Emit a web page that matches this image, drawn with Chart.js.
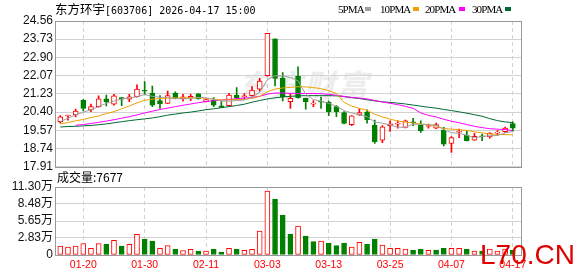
<!DOCTYPE html>
<html>
<head>
<meta charset="utf-8">
<script src="https://cdn.jsdelivr.net/npm/chart.js@4"></script>
<style>
  html, body { margin: 0; padding: 0; background: #fff; }
  #wrap { position: relative; width: 578px; height: 276px; overflow: hidden; }
  #wrap canvas { position: absolute; left: 0; top: 0; }
  .txt { position: absolute; white-space: nowrap; color: #000; }
  #title { left: 55px; top: 2px; font-size: 12.5px; line-height: 14px; font-family: "Noto Sans CJK SC", sans-serif; }
  #title .mono { font-family: "DejaVu Sans Mono", monospace; font-size: 10px; }
  .lg { top: 3px; font-family: "Liberation Serif", serif; font-size: 11px; line-height: 12px; letter-spacing: -0.9px; }
  .sq { position: absolute; top: 7px; width: 6px; height: 4px; }
  #volTitle { left: 57px; top: 170px; font-size: 12px; line-height: 14px; font-family: "Noto Sans CJK SC", sans-serif; }
  #mark { left: 238px; top: 68px; font-size: 31px; line-height: 32px; font-weight: bold; font-style: italic; color: #ededed; font-family: "Noto Sans CJK SC", sans-serif; letter-spacing: 2px; }
  #site { left: 480px; top: 241px; font-size: 28px; line-height: 28px; color: #e00000; font-family: "Liberation Sans", sans-serif; }
</style>
</head>
<body>
<div id="wrap">
  <div class="txt" id="mark">东方财富</div>
  <canvas id="priceChart" width="578" height="276" style="width:578px;height:276px"></canvas>
  <canvas id="volChart" width="578" height="276" style="width:578px;height:276px"></canvas>
  <div class="txt" id="title">东方环宇<span class="mono">[603706] 2026-04-17 15:00</span></div>
  <div class="txt lg" style="left:338px">5PMA</div><div class="sq" style="left:365px;background:#a0a0a0"></div>
  <div class="txt lg" style="left:380px">10PMA</div><div class="sq" style="left:413px;background:#f0a000"></div>
  <div class="txt lg" style="left:425px">20PMA</div><div class="sq" style="left:459px;background:#ff00ff"></div>
  <div class="txt lg" style="left:472px">30PMA</div><div class="sq" style="left:505px;background:#006a32"></div>
  <div class="txt" id="volTitle">成交量:7677</div>
  <div class="txt" id="site">L70.CN</div>
</div>
<script>
// trading days
const dates = [
  "01-15", "01-16", "01-19", "01-20", "01-21", "01-22", "01-23", "01-26", "01-27", "01-28",
  "01-29", "01-30", "02-02", "02-03", "02-04", "02-05", "02-06", "02-09", "02-10", "02-11",
  "02-12", "02-13", "02-24", "02-25", "02-26", "02-27", "03-02", "03-03", "03-04", "03-05",
  "03-06", "03-09", "03-10", "03-11", "03-12", "03-13", "03-16", "03-17", "03-18", "03-19",
  "03-20", "03-23", "03-24", "03-25", "03-26", "03-27", "03-30", "03-31", "04-01", "04-02",
  "04-03", "04-07", "04-08", "04-09", "04-10", "04-13", "04-14", "04-15", "04-16", "04-17",
];
const labelIdx = [3, 11, 19, 27, 35, 43, 51, 59];

// candles
const open = [
  19.96, 20.22, 20.27, 20.95, 20.50, 20.65, 21.00, 20.76, 21.06, 20.99,
  21.10, 21.38, 21.26, 20.92, 20.80, 21.27, 21.00, 21.03, 21.23, 20.87,
  20.95, 20.69, 20.69, 21.18, 21.10, 21.15, 21.45, 22.06, 23.74, 21.94,
  20.88, 22.05, 21.03, 20.76, 20.88, 20.86, 20.65, 20.38, 19.82, 20.27,
  20.40, 19.81, 19.12, 19.78, 19.85, 19.70, 19.94, 19.81, 19.74, 19.66,
  19.58, 18.97, 19.48, 19.35, 19.12, 19.30, 19.27, 19.44, 19.50, 19.88,
];
const high = [
  20.24, 20.26, 20.54, 20.97, 20.76, 21.14, 21.18, 21.21, 21.07, 21.21,
  21.64, 21.79, 21.59, 21.15, 21.36, 21.32, 21.21, 21.21, 21.24, 20.98,
  21.06, 20.88, 21.26, 21.52, 21.24, 21.56, 21.94, 24.00, 23.75, 22.20,
  21.26, 22.47, 21.04, 20.92, 21.08, 20.90, 20.70, 20.42, 20.24, 20.55,
  20.50, 20.04, 19.78, 20.00, 20.00, 20.04, 20.12, 20.00, 19.85, 19.90,
  19.70, 19.28, 19.62, 19.54, 19.43, 19.39, 19.46, 19.55, 19.72, 19.96,
];
const low = [
  19.89, 20.03, 20.18, 20.45, 20.42, 20.63, 20.68, 20.72, 20.69, 20.88,
  21.08, 21.18, 20.65, 20.57, 20.78, 21.00, 20.90, 20.92, 20.99, 20.86,
  20.65, 20.60, 20.67, 21.00, 21.00, 21.13, 21.36, 22.04, 21.60, 20.91,
  20.57, 21.04, 20.53, 20.65, 20.57, 20.24, 20.19, 19.86, 19.78, 20.25,
  19.89, 18.97, 19.00, 19.52, 19.66, 19.68, 19.78, 19.47, 19.66, 19.64,
  18.86, 18.56, 19.23, 19.08, 19.11, 19.09, 19.21, 19.33, 19.46, 19.52,
];
const close = [
  20.18, 20.25, 20.45, 20.57, 20.65, 21.00, 20.86, 21.14, 20.99, 21.10,
  21.45, 21.35, 20.72, 20.77, 21.15, 21.02, 21.10, 21.12, 21.00, 20.97,
  20.72, 20.61, 21.18, 21.03, 21.14, 21.41, 21.82, 24.00, 21.94, 21.10,
  21.03, 21.06, 20.88, 20.78, 20.85, 20.42, 20.42, 19.88, 20.23, 20.38,
  20.05, 19.05, 19.73, 19.86, 19.87, 20.00, 19.91, 19.55, 19.78, 19.83,
  18.93, 19.23, 19.50, 19.09, 19.29, 19.27, 19.44, 19.47, 19.67, 19.66,
];

// moving averages as drawn
const ma5 = [
  19.96, 20.12, 20.27, 20.40, 20.50, 20.65, 20.80, 20.90, 21.00, 21.05,
  21.10, 21.20, 21.12, 21.08, 21.06, 21.02, 21.00, 21.03, 21.07, 21.05,
  20.98, 20.90, 20.90, 20.93, 20.95, 21.08, 21.30, 21.88, 22.06, 22.05,
  21.98, 21.83, 21.22, 20.97, 20.90, 20.80, 20.67, 20.47, 20.36, 20.27,
  20.19, 19.95, 19.89, 19.81, 19.71, 19.70, 19.85, 19.84, 19.82, 19.80,
  19.60, 19.46, 19.43, 19.34, 19.23, 19.28, 19.32, 19.33, 19.45, 19.52,
];
const ma10 = [
  19.86, 19.92, 20.00, 20.06, 20.15, 20.22, 20.33, 20.42, 20.55, 20.68,
  20.82, 20.94, 20.99, 21.02, 21.04, 21.05, 21.05, 21.05, 21.05, 21.03,
  20.99, 20.95, 20.96, 20.97, 20.97, 21.03, 21.12, 21.33, 21.45, 21.50,
  21.53, 21.56, 21.55, 21.52, 21.47, 21.38, 21.25, 20.84, 20.67, 20.57,
  20.48, 20.30, 20.18, 20.08, 19.99, 19.94, 19.90, 19.86, 19.82, 19.76,
  19.65, 19.62, 19.60, 19.56, 19.50, 19.45, 19.40, 19.38, 19.37, 19.36,
];
const ma20 = [
  null, null, 19.80, 19.83, 19.88, 19.93, 19.99, 20.05, 20.12, 20.19,
  20.27, 20.36, 20.44, 20.52, 20.58, 20.65, 20.71, 20.77, 20.83, 20.88,
  20.92, 20.95, 20.98, 21.01, 21.04, 21.07, 21.12, 21.22, 21.27, 21.27,
  21.26, 21.25, 21.25, 21.25, 21.24, 21.21, 21.17, 21.11, 21.07, 21.04,
  21.00, 20.93, 20.86, 20.80, 20.74, 20.66, 20.57, 20.36, 20.25, 20.18,
  20.07, 19.98, 19.91, 19.83, 19.75, 19.69, 19.64, 19.62, 19.60, 19.56,
];
const ma30 = [
  19.72, 19.74, 19.75, 19.77, 19.79, 19.82, 19.86, 19.91, 19.96, 20.01,
  20.05, 20.09, 20.13, 20.19, 20.26, 20.31, 20.36, 20.40, 20.45, 20.51,
  20.55, 20.60, 20.65, 20.70, 20.76, 20.85, 20.93, 21.00, 21.05, 21.09,
  21.12, 21.14, 21.15, 21.15, 21.15, 21.15, 21.14, 21.11, 21.06, 21.02,
  20.96, 20.91, 20.87, 20.84, 20.81, 20.77, 20.72, 20.67, 20.62, 20.58,
  20.52, 20.47, 20.41, 20.35, 20.28, 20.21, 20.10, 20.01, 19.95, 19.92,
];

// volume, in 万
const volume = [
  1.50, 1.33, 1.50, 1.88, 1.11, 1.88, 1.77, 2.44, 1.50, 1.77,
  3.44, 2.66, 2.33, 1.11, 1.55, 1.00, 0.72, 0.95, 0.66, 0.66,
  1.00, 0.50, 1.11, 1.00, 0.78, 0.95, 3.99, 10.63, 9.30, 6.64,
  3.49, 4.82, 3.16, 2.21, 2.33, 1.99, 1.55, 1.99, 1.33, 2.11,
  1.83, 2.66, 1.66, 1.11, 1.11, 1.00, 0.78, 1.00, 0.78, 0.83,
  1.11, 1.11, 1.11, 1.00, 0.66, 0.66, 1.00, 0.66, 1.00, 0.77,
];
// 1 = red (up day), 0 = green
const volUp = [
  1, 1, 1, 1, 1, 1, 0, 1, 0, 1,
  1, 0, 0, 1, 1, 0, 1, 1, 0, 1,
  0, 0, 1, 0, 1, 1, 1, 1, 0, 0,
  0, 1, 0, 0, 1, 0, 0, 0, 1, 1,
  0, 0, 1, 1, 1, 1, 0, 0, 1, 0,
  0, 1, 1, 0, 1, 0, 1, 1, 1, 0,
];

// axis ticks
const priceTicks = [17.91, 18.74, 19.57, 20.40, 21.23, 22.07, 22.90, 23.73, 24.56];
const priceTickLabels = ["17.91", "18.74", "19.57", "20.40", "21.23", "22.07", "22.90", "23.73", "24.56"];
const volTicks = [0, 2.83, 5.65, 8.48, 11.30];
const volTickLabels = ["0", "2.83万", "5.65万", "8.48万", "11.30万"];

const RED = "#ff0000";
const GREEN = "#008000";
const GRID = "#d2d2d2";
const X_MIN = -0.69;
const X_MAX = 60.2;

Chart.defaults.font.family = "'Liberation Sans', 'Noto Sans CJK SC', sans-serif";
Chart.defaults.font.size = 12;
Chart.defaults.color = "#111";

// grey box around the plot area
const framePlugin = {
  id: "frame",
  afterDraw(chart) {
    const a = chart.chartArea;
    const ctx = chart.ctx;
    ctx.save();
    ctx.strokeStyle = "#999";
    ctx.lineWidth = 1;
    ctx.strokeRect(Math.round(a.left) + 0.5, Math.round(a.top) + 0.5,
      Math.round(a.right - a.left) - 1, Math.round(a.bottom - a.top));
    ctx.restore();
  },
};

function xScale(showLabels) {
  return {
    type: "linear",
    min: X_MIN,
    max: X_MAX,
    offset: false,
    afterBuildTicks: (s) => { s.ticks = labelIdx.map((v) => ({ value: v })); },
    ticks: {
      display: showLabels,
      autoSkip: false,
      maxRotation: 0,
      padding: 4,
      color: RED,
      font: { size: 10.5 },
      callback: (v) => dates[v],
    },
    grid: { color: GRID, drawTicks: false, offset: false },
    border: { display: false, dash: [4, 3] },
    afterFit: (s) => { s.height = showLabels ? 21 : 0; },
  };
}

function yScale(min, max, ticks, labels) {
  return {
    min: min,
    max: max,
    afterBuildTicks: (s) => { s.ticks = ticks.map((v) => ({ value: v })); },
    ticks: { padding: 2, autoSkip: false, callback: (v, i) => labels[i] },
    grid: { color: GRID, drawTicks: false },
    border: { display: false },
    afterFit: (s) => { s.width = 55; },
  };
}

const isUp = close.map((c, i) => c >= open[i]);

function lineSet(values, color) {
  return {
    type: "line",
    data: values.map((v, i) => ({ x: i, y: v })),
    borderColor: color,
    borderWidth: 1,
    pointRadius: 0,
    tension: 0,
    spanGaps: false,
  };
}

new Chart(document.getElementById("priceChart"), {
  type: "bar",
  data: {
    datasets: [
      lineSet(ma5, "#a0a0a0"),
      lineSet(ma10, "#f0a000"),
      lineSet(ma20, "#ff00ff"),
      lineSet(ma30, "#006a32"),
      {
        // bodies
        data: open.map((o, i) => ({ x: i, y: [o, close[i]] })),
        backgroundColor: isUp.map((u) => (u ? "#ffffff" : GREEN)),
        borderColor: isUp.map((u) => (u ? RED : GREEN)),
        borderWidth: 1,
        borderSkipped: false,
        barThickness: 5,
        minBarLength: 1,
        grouped: false,
      },
      {
        // wicks
        data: low.map((l, i) => ({ x: i, y: [l, high[i]] })),
        backgroundColor: isUp.map((u) => (u ? RED : GREEN)),
        borderWidth: 0,
        barThickness: 1,
        grouped: false,
      },
    ],
  },
  options: {
    responsive: false,
    animation: false,
    layout: { padding: { left: 0, right: 56, top: 21, bottom: 109.4 } },
    plugins: { legend: { display: false }, tooltip: { enabled: false } },
    scales: {
      x: xScale(false),
      y: yScale(17.91, 24.56, priceTicks, priceTickLabels),
    },
  },
  plugins: [framePlugin],
});

new Chart(document.getElementById("volChart"), {
  type: "bar",
  data: {
    datasets: [
      {
        data: volume.map((v, i) => ({ x: i, y: v })),
        backgroundColor: volUp.map((u) => (u ? "#ffffff" : GREEN)),
        borderColor: volUp.map((u) => (u ? RED : GREEN)),
        borderWidth: 1,
        borderSkipped: false,
        barThickness: 5,
        grouped: false,
      },
    ],
  },
  options: {
    responsive: false,
    animation: false,
    layout: { padding: { left: 0, right: 56, top: 187, bottom: 0 } },
    plugins: { legend: { display: false }, tooltip: { enabled: false } },
    scales: {
      x: xScale(true),
      y: yScale(0, 11.30, volTicks, volTickLabels),
    },
  },
  plugins: [framePlugin],
});
</script>
</body>
</html>
